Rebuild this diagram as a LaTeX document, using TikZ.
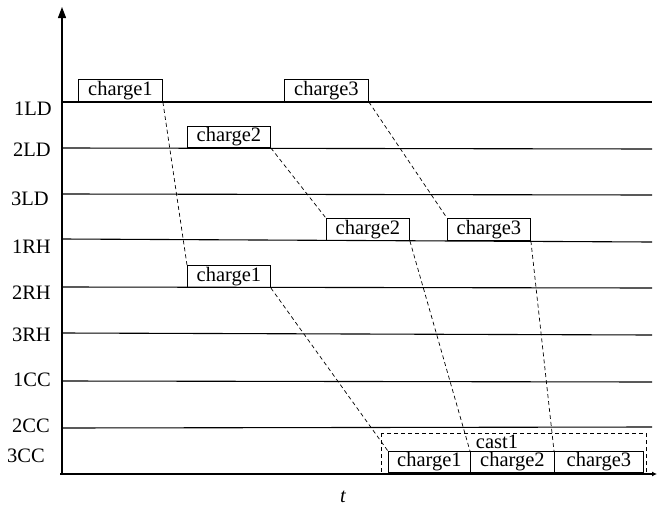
\documentclass[tikz,border=0pt]{standalone}
\usepackage{fontspec}
\setmainfont{Liberation Serif}
\usetikzlibrary{arrows.meta}
\begin{document}
\begin{tikzpicture}[x=1pt,y=-1pt,
  axis/.style={line width=1.2pt},
  track/.style={line width=1.1pt},
  link/.style={line width=0.7pt,dash pattern=on 4pt off 3pt},
  txt/.style={font=\fontsize{20.5}{22}\selectfont},
  lbl/.style={txt,anchor=east,inner sep=0pt},
  charge/.style={txt,draw,line width=0.9pt,anchor=south west,inner sep=0pt,
    minimum height=22pt},
]
\useasboundingbox (0,0) rectangle (658,506);

% axes
\draw[axis,-{Triangle[width=8pt,length=11pt]}] (62,474) -- (62,7);
\draw[axis,-{Latex[length=5pt,width=5pt]}] (60,474) -- (657,474);
\node[txt,font=\fontsize{20.5}{22}\selectfont\itshape,inner sep=0pt] (t) at (343,497) {t};

% equipment tracks
\draw[track] (62,102) -- (652,102);
\draw[track] (62,148) -- (652,149);
\draw[track] (62,194) -- (652,195);
\draw[track] (62,239) -- (652,242);
\draw[track] (62,287) -- (652,288);
\draw[track] (62,333) -- (652,335);
\draw[track] (62,381) -- (652,382);
\draw[track] (62,428) -- (652,427);

% track labels
\node[lbl] (l1) at (52,109) {1LD};
\node[lbl] (l2) at (51,150) {2LD};
\node[lbl] (l3) at (49,199) {3LD};
\node[lbl] (l4) at (51,247) {1RH};
\node[lbl] (l5) at (51,293) {2RH};
\node[lbl] (l6) at (51,335) {3RH};
\node[lbl] (l7) at (51,380) {1CC};
\node[lbl] (l8) at (50,426) {2CC};
\node[lbl] (l9) at (45,456) {3CC};

% charges on the tracks
\node[charge,minimum width=84pt,minimum height=22pt] (c1a) at (78,102) {charge1};
\node[charge,minimum width=84pt,minimum height=22pt] (c3a) at (284,102) {charge3};
\node[charge,minimum width=83pt,minimum height=21pt] (c2a) at (187,148) {charge2};
\node[charge,minimum width=83pt,minimum height=22pt] (c2b) at (326,241) {charge2};
\node[charge,minimum width=83pt,minimum height=22pt] (c3b) at (447,241) {charge3};
\node[charge,minimum width=83pt,minimum height=22pt] (c1b) at (187,288) {charge1};

% cast
\draw[link] (381,433) rectangle (646,474);
\node[txt,inner sep=0pt] (cast) at (497,442) {cast1};
\node[charge,minimum width=82pt,minimum height=21pt] (c1c) at (388,473) {charge1};
\node[charge,minimum width=84pt,minimum height=21pt] (c2c) at (470,473) {charge2};
\node[charge,minimum width=89pt,minimum height=21pt] (c3c) at (554,473) {charge3};

% routes
\draw[link] (c1a.south east) -- (c1b.north west);
\draw[link] (c2a.south east) -- (c2b.north west);
\draw[link] (c3a.south east) -- (c3b.north west);
\draw[link] (c1b.south east) -- (c1c.north west);
\draw[link] (c2b.south east) -- (c2c.north west);
\draw[link] (c3b.south east) -- (c3c.north west);
\end{tikzpicture}
\end{document}
